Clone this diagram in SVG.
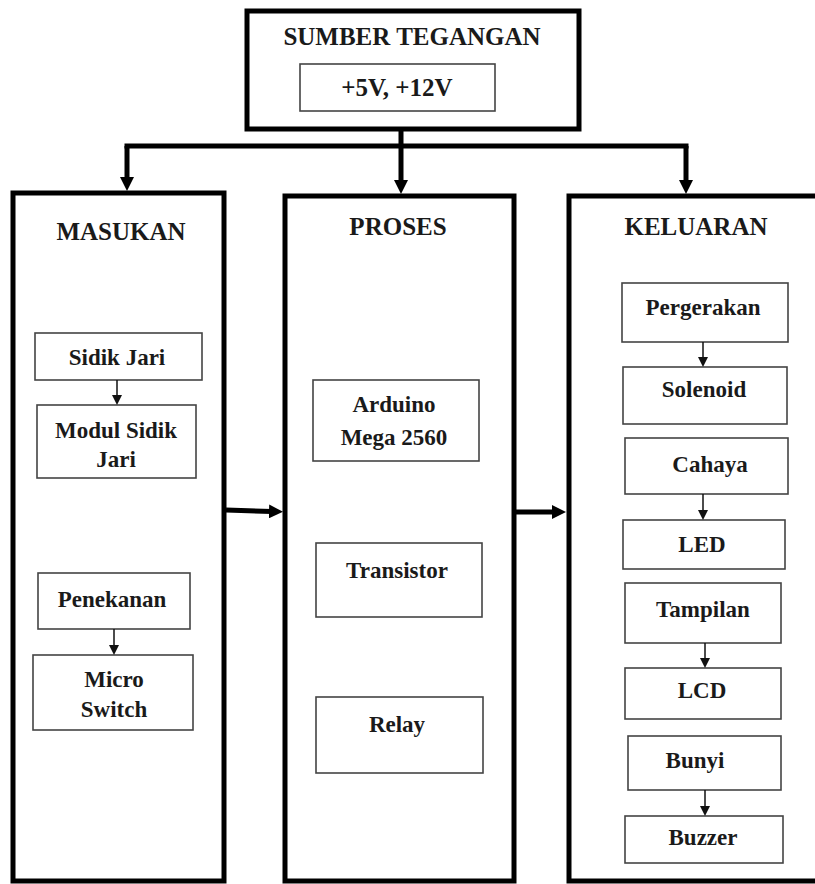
<svg xmlns="http://www.w3.org/2000/svg" width="815" height="884" viewBox="0 0 815 884">
<defs>
<marker id="big" markerUnits="userSpaceOnUse" markerWidth="14" markerHeight="14" refX="3" refY="7" orient="auto"><path d="M0,0 L14,7 L0,14 z" fill="#000"/></marker>
<marker id="small" markerUnits="userSpaceOnUse" markerWidth="10" markerHeight="10" refX="2" refY="5" orient="auto"><path d="M0,0 L10,5 L0,10 z" fill="#111"/></marker>
</defs>
<style>
.outer{fill:#fff;stroke:#000;stroke-width:5}
.sub{fill:#fff;stroke:#444;stroke-width:1.6}
.h{font-family:"Liberation Serif","Times New Roman",serif;font-weight:bold;font-size:25px;fill:#1a1a1a;text-anchor:middle}
.t{font-family:"Liberation Serif","Times New Roman",serif;font-weight:bold;font-size:23px;fill:#1a1a1a;text-anchor:middle}
.thick{fill:none;stroke:#000;stroke-width:5}
.thin{fill:none;stroke:#111;stroke-width:1.5}
</style>
<rect width="815" height="884" fill="#fff"/>

<g id="sumber">
<rect class="outer" x="247" y="11" width="332" height="118"/>
<text class="h" x="412" y="45">SUMBER TEGANGAN</text>
<rect class="sub" x="300" y="64" width="195" height="47"/>
<text class="h" x="397" y="96">+5V, +12V</text>
</g>

<g id="masukan">
<rect class="outer" x="13" y="193" width="211" height="688"/>
<text class="h" x="121" y="240">MASUKAN</text>
</g>
<g id="proses">
<rect class="outer" x="285" y="196" width="229" height="685"/>
<text class="h" x="398" y="235">PROSES</text>
</g>
<g id="keluaran">
<rect class="outer" x="569" y="196" width="270" height="685"/>
<text class="h" x="696" y="235">KELUARAN</text>
</g>

<g id="sidik-jari"><rect class="sub" x="35" y="333" width="167" height="47"/><text class="t" x="117" y="365">Sidik Jari</text></g>
<g id="modul-sidik-jari"><rect class="sub" x="37" y="405" width="159" height="73"/><text class="t" x="116" y="438">Modul Sidik</text><text class="t" x="116" y="467">Jari</text></g>
<g id="penekanan"><rect class="sub" x="38" y="573" width="152" height="56"/><text class="t" x="112" y="607">Penekanan</text></g>
<g id="micro-switch"><rect class="sub" x="33" y="655" width="160" height="75"/><text class="t" x="114" y="687">Micro</text><text class="t" x="114" y="717">Switch</text></g>

<g id="arduino"><rect class="sub" x="313" y="380" width="166" height="81"/><text class="t" x="394" y="412">Arduino</text><text class="t" x="394" y="445">Mega 2560</text></g>
<g id="transistor"><rect class="sub" x="316" y="543" width="166" height="74"/><text class="t" x="397" y="578">Transistor</text></g>
<g id="relay"><rect class="sub" x="316" y="697" width="167" height="76"/><text class="t" x="397" y="732">Relay</text></g>

<g id="pergerakan"><rect class="sub" x="622" y="283" width="166" height="59"/><text class="t" x="703" y="315">Pergerakan</text></g>
<g id="solenoid"><rect class="sub" x="623" y="367" width="164" height="57"/><text class="t" x="704" y="397">Solenoid</text></g>
<g id="cahaya"><rect class="sub" x="625" y="438" width="163" height="56"/><text class="t" x="710" y="472">Cahaya</text></g>
<g id="led"><rect class="sub" x="623" y="520" width="162" height="49"/><text class="t" x="702" y="552">LED</text></g>
<g id="tampilan"><rect class="sub" x="625" y="583" width="156" height="60"/><text class="t" x="703" y="617">Tampilan</text></g>
<g id="lcd"><rect class="sub" x="625" y="668" width="156" height="51"/><text class="t" x="702" y="698">LCD</text></g>
<g id="bunyi"><rect class="sub" x="628" y="736" width="153" height="54"/><text class="t" x="695" y="768">Bunyi</text></g>
<g id="buzzer"><rect class="sub" x="625" y="816" width="158" height="47"/><text class="t" x="703" y="845">Buzzer</text></g>

<g id="connectors">
<path class="thick" d="M401,129 V146 M124.5,146 H688.5"/>
<path class="thick" d="M127,146 V180" marker-end="url(#big)"/>
<path class="thick" d="M401,146 V183" marker-end="url(#big)"/>
<path class="thick" d="M686,146 V183" marker-end="url(#big)"/>
<path class="thick" d="M226,510 L272,511.5" marker-end="url(#big)"/>
<path class="thick" d="M516,512 H555" marker-end="url(#big)"/>
<path class="thin" d="M117,380 V397" marker-end="url(#small)"/>
<path class="thin" d="M114,629 V647" marker-end="url(#small)"/>
<path class="thin" d="M703,342 V359" marker-end="url(#small)"/>
<path class="thin" d="M703,494 V512" marker-end="url(#small)"/>
<path class="thin" d="M705,643 V660" marker-end="url(#small)"/>
<path class="thin" d="M705,790 V808" marker-end="url(#small)"/>
</g>
</svg>
